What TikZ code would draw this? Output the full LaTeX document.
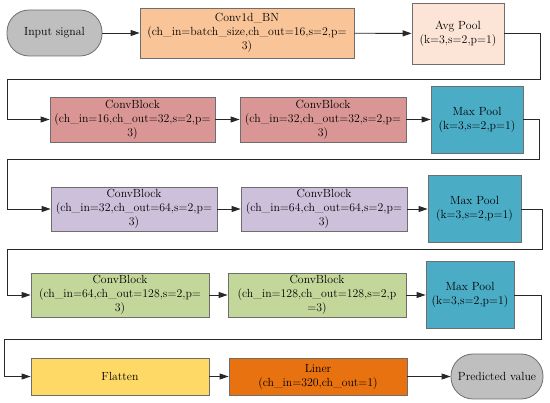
\documentclass[tikz,border=0pt]{standalone}
\usepackage{fontspec}
\usetikzlibrary{arrows.meta}
\definecolor{cgray}{RGB}{191,191,191}
\definecolor{cpeach}{RGB}{249,196,151}
\definecolor{clight}{RGB}{252,228,214}
\definecolor{crose}{RGB}{218,150,148}
\definecolor{clav}{RGB}{204,192,218}
\definecolor{cteal}{RGB}{75,172,198}
\definecolor{cgreen}{RGB}{196,215,155}
\definecolor{cyellow}{RGB}{255,217,102}
\definecolor{corange}{RGB}{232,113,16}
\definecolor{cborder}{RGB}{110,110,110}
\definecolor{cline}{RGB}{40,40,40}
\begin{document}
\begin{tikzpicture}[x=1pt,y=-1pt,
  box/.style={draw=cborder,line width=0.8pt,inner sep=0pt,align=center,
    font=\fontsize{11.8}{14}\selectfont},
  term/.style={box,fill=cgray,rounded corners=22pt},
  conn/.style={draw=cline,line width=0.9pt,-{Triangle[length=9pt,width=6pt]}},
  wire/.style={draw=cline,line width=0.9pt}]
\useasboundingbox (0,0) rectangle (550,403);
\node[term,minimum width=95pt,minimum height=46pt] (in) at (54.5,33) {Input signal};
\node[box,fill=cpeach,minimum width=214pt,minimum height=50pt] (c0) at (247,33)
  {Conv1d\_BN\\(ch\_in=batch\_size,ch\_out=16,s=2,p=\\3)};
\node[box,fill=clight,minimum width=92pt,minimum height=61pt] (ap) at (458,33.5)
  {Avg Pool\\(k=3,s=2,p=1)};
\node[box,fill=crose,minimum width=165pt,minimum height=45pt] (b1) at (132.5,119.5)
  {ConvBlock\\(ch\_in=16,ch\_out=32,s=2,p=\\3)};
\node[box,fill=crose,minimum width=166pt,minimum height=45pt] (b2) at (323,119.5)
  {ConvBlock\\(ch\_in=32,ch\_out=32,s=2,p=\\3)};
\node[box,fill=cteal,minimum width=92pt,minimum height=67pt] (m1) at (477,119.5)
  {Max Pool\\(k=3,s=2,p=1)};
\node[box,fill=clav,minimum width=166pt,minimum height=44pt] (b3) at (134,209)
  {ConvBlock\\(ch\_in=32,ch\_out=64,s=2,p=\\3)};
\node[box,fill=clav,minimum width=166pt,minimum height=44pt] (b4) at (324,209)
  {ConvBlock\\(ch\_in=64,ch\_out=64,s=2,p=\\3)};
\node[box,fill=cteal,minimum width=93pt,minimum height=67pt] (m2) at (474.5,208.5)
  {Max Pool\\(k=3,s=2,p=1)};
\node[box,fill=cgreen,minimum width=178pt,minimum height=44pt] (b5) at (120,295)
  {ConvBlock\\(ch\_in=64,ch\_out=128,s=2,p=\\3)};
\node[box,fill=cgreen,minimum width=178pt,minimum height=44pt] (b6) at (317,295)
  {ConvBlock\\(ch\_in=128,ch\_out=128,s=2,p\\=3)};
\node[box,fill=cteal,minimum width=88pt,minimum height=67pt] (m3) at (470,294.5)
  {Max Pool\\(k=3,s=2,p=1)};
\node[box,fill=cyellow,minimum width=178pt,minimum height=37pt] (fl) at (120,376.5)
  {Flatten};
\node[box,fill=corange,minimum width=178pt,minimum height=37pt] (li) at (318,376.5)
  {Liner\\(ch\_in=320,ch\_out=1)};
\node[term,minimum width=92pt,minimum height=45pt] (out) at (497,376.5) {Predicted value};
% row 1
\draw[conn] (in) -- (c0);
\draw[conn] (c0) -- (ap);
\coordinate (r1a) at (540,33.5);
\coordinate (r1b) at (540,79);
\coordinate (r1c) at (7,79);
\coordinate (r1d) at (7,119.5);
\draw[conn] (ap.east) -- (r1a) -- (r1b) -- (r1c) -- (r1d) -- (b1.west);
% row 2
\draw[conn] (b1) -- (b2);
\draw[conn] (b2) -- (m1);
\coordinate (r2a) at (539,119.5);
\coordinate (r2b) at (539,159);
\coordinate (r2c) at (7,159);
\coordinate (r2d) at (7,209);
\draw[conn] (m1.east) -- (r2a) -- (r2b) -- (r2c) -- (r2d) -- (b3.west);
% row 3
\draw[conn] (b3) -- (b4);
\draw[conn] (b4.east) -- (b4.east -| m2.west);
\coordinate (r3a) at (542,209);
\coordinate (r3b) at (542,249);
\coordinate (r3c) at (7,249);
\coordinate (r3d) at (7,295);
\draw[conn] (m2.east |- r3a) -- (r3a) -- (r3b) -- (r3c) -- (r3d) -- (b5.west);
% row 4
\draw[conn] (b5) -- (b6);
\draw[conn] (b6.east) -- (b6.east -| m3.west);
\coordinate (r4a) at (541,295);
\coordinate (r4b) at (541,339);
\coordinate (r4c) at (4,339);
\coordinate (r4d) at (4,376.5);
\draw[conn] (m3.east |- r4a) -- (r4a) -- (r4b) -- (r4c) -- (r4d) -- (fl.west);
% row 5
\draw[conn] (fl) -- (li);
\draw[conn] (li) -- (out);
\end{tikzpicture}
\end{document}
